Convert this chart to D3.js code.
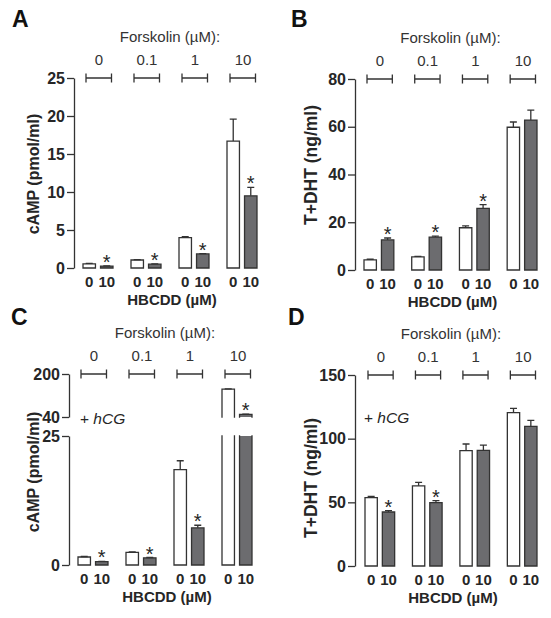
<!DOCTYPE html>
<html><head><meta charset="utf-8">
<script src="https://cdn.jsdelivr.net/npm/d3@7"></script>
<style>
html,body{margin:0;padding:0;background:#fff;}
svg{display:block;font-family:"Liberation Sans",Arial,Helvetica,sans-serif;}
</style></head>
<body><svg id="chart" width="551" height="618"></svg>
<script>
// ---------- data ----------
const forskolin = ["0", "0.1", "1", "10"];
const hbcdd = ["0", "10"];

// Panel A: cAMP (pmol/ml)
const aControl = [0.55, 1.05, 4.0, 16.7];
const aControlErr = [0.05, 0.05, 0.12, 2.9];
const aHbcdd = [0.25, 0.5, 1.85, 9.5];
const aHbcddErr = [0.03, 0.05, 0.05, 1.1];
const aSig = [true, true, true, true];
const aTicks = [0, 5, 10, 15, 20, 25];

// Panel B: T+DHT (ng/ml)
const bControl = [4.2, 5.5, 17.7, 59.8];
const bControlErr = [0.3, 0.2, 0.8, 2.2];
const bHbcdd = [12.6, 13.8, 25.8, 62.8];
const bHbcddErr = [0.8, 0.4, 1.6, 4.2];
const bSig = [true, true, true, false];
const bTicks = [0, 20, 40, 60, 80];

// Panel C: cAMP (pmol/ml) + hCG, broken axis
const cControl = [1.55, 2.45, 18.5, 144];
const cControlErr = [0.1, 0.1, 1.7, 1];
const cHbcdd = [0.65, 1.4, 7.2, 50];
const cHbcddErr = [0.05, 0.05, 0.5, 0.5];
const cSig = [true, true, true, true];
const cTicksLow = [0, 25];
const cTicksHigh = [40, 200];

// Panel D: T+DHT (ng/ml) + hCG
const dControl = [53.7, 63, 90.6, 120.4];
const dControlErr = [1.0, 2.7, 5.2, 3.4];
const dHbcdd = [42.4, 49.7, 90.8, 109.7];
const dHbcddErr = [1.1, 1.6, 4.2, 4.7];
const dSig = [true, true, false, false];
const dTicks = [0, 50, 100, 150];

// ---------- drawing ----------
const svg = d3.select("#chart");
const TXT = "#262626";
const STROKE = "#333";
const GREY = "#6c6c6f";

function rows(ctrl, ctrlErr, trt, trtErr, sig) {
  return forskolin.map((f, i) => ({
    f,
    bars: [
      {h: hbcdd[0], v: ctrl[i], e: ctrlErr[i], fill: "#fff", sig: false},
      {h: hbcdd[1], v: trt[i], e: trtErr[i], fill: GREY, sig: sig[i]}
    ]
  }));
}

function drawPanel(p) {
  const g = svg.append("g");
  const x = d3.scaleBand().domain(forskolin).range([p.x0, p.x1]).paddingInner(0.375).paddingOuter(0);
  const xi = d3.scaleBand().domain(hbcdd).range([0, x.bandwidth()]).paddingInner(0.29).paddingOuter(0);
  const segs = p.segs;
  const topY = d3.min(segs, s => s.scale.range()[1]);
  const zeroY = segs[0].scale(segs[0].min);

  // axes
  segs.forEach(s => {
    const ax = d3.axisLeft(s.scale).tickValues(s.ticks).tickSize(7).tickSizeOuter(0).tickPadding(2).tickFormat(d3.format("d"));
    const ag = g.append("g").attr("transform", `translate(${p.axisX},0)`).call(ax);
    ag.select(".domain").attr("stroke", STROKE).attr("stroke-width", 1.3);
    ag.selectAll(".tick line").attr("stroke", STROKE).attr("stroke-width", 1.3);
    ag.selectAll(".tick text").attr("fill", TXT).attr("font-size", 16).attr("font-weight", "bold").attr("font-family", "Liberation Sans, Arial, sans-serif");
  });

  // panel letter
  g.append("text").attr("x", p.letterX).attr("y", p.letterY).text(p.letter)
    .attr("font-size", 23).attr("font-weight", "bold").attr("fill", "#111");

  // Forskolin header
  const midX = (p.x0 + p.x1) / 2;
  g.append("text").attr("x", midX).attr("y", topY - 36).attr("text-anchor", "middle")
    .attr("font-size", 15).attr("fill", "#333").text("Forskolin (\u00b5M):");

  // brackets + concentration labels
  forskolin.forEach(f => {
    const gx = x(f), bw = x.bandwidth();
    const l = gx + 3, r = gx + bw - 1.5;
    g.append("path").attr("d", `M${l},${topY - 4.5}V${topY + 4.5}M${l},${topY}H${r}M${r},${topY - 4.5}V${topY + 4.5}`)
      .attr("stroke", STROKE).attr("stroke-width", 1.3).attr("fill", "none");
    g.append("text").attr("x", gx + bw / 2 + 1).attr("y", topY - 13).attr("text-anchor", "middle")
      .attr("font-size", 15).attr("fill", "#333").text(f);
  });

  // bars
  p.data.forEach(grp => {
    grp.bars.forEach(b => {
      const bx = x(grp.f) + xi(b.h), bw = xi.bandwidth();
      segs.forEach(s => {
        if (b.v <= s.min) return;
        const vt = Math.min(b.v, s.max);
        const yt = s.scale(vt), yb = s.scale(s.min);
        const openTop = b.v > s.max, openBottom = s.min > 0;
        g.append("rect").attr("x", bx).attr("y", yt).attr("width", bw).attr("height", yb - yt).attr("fill", b.fill);
        let d = `M${bx},${yb}V${yt}M${bx + bw},${yb}V${yt}`;
        if (!openTop) d += `M${bx},${yt}H${bx + bw}`;
        if (!openBottom) d += `M${bx},${yb}H${bx + bw}`;
        g.append("path").attr("d", d).attr("stroke", STROKE).attr("stroke-width", 1.3).attr("fill", "none").attr("stroke-linecap", "square");
        if (b.v <= s.max) {
          const cx = bx + bw / 2;
          const ye = s.scale(b.v + b.e);
          g.append("path").attr("d", `M${cx},${yt}V${ye}M${cx - 3.5},${ye}H${cx + 3.5}`)
            .attr("stroke", STROKE).attr("stroke-width", 1.3).attr("fill", "none");
          if (b.sig) {
            g.append("text").attr("x", cx).attr("y", ye + 3).attr("text-anchor", "middle")
              .attr("font-size", 20).attr("fill", TXT).text("*");
          }
        }
      });
      // HBCDD label
      g.append("text").attr("x", bx + bw / 2).attr("y", zeroY + 19).attr("text-anchor", "middle")
        .attr("font-size", 15).attr("font-weight", "bold").attr("fill", TXT).text(b.h);
    });
  });

  // HBCDD title
  g.append("text").attr("x", midX + 2).attr("y", zeroY + 37).attr("text-anchor", "middle")
    .attr("font-size", 15).attr("font-weight", "bold").attr("fill", TXT).text("HBCDD (\u00b5M)");

  // y title
  g.append("text").attr("transform", `translate(${p.titleX},${p.titleY}) rotate(-90)`).attr("text-anchor", "middle")
    .attr("font-size", p.titleSize).attr("font-weight", "bold").attr("fill", TXT).text(p.ytitle);

  if (p.hcg) {
    g.append("text").attr("x", p.hcg[0]).attr("y", p.hcg[1]).attr("font-size", 15.5).attr("fill", TXT)
      .html('+ <tspan font-style="italic">hCG</tspan>');
  }
}

drawPanel({
  letter: "A", letterX: 12, letterY: 27, axisX: 74, x0: 83, x1: 257,
  segs: [{scale: d3.scaleLinear().domain([0, 25]).range([268, 78]), min: 0, max: 25, ticks: aTicks}],
  data: rows(aControl, aControlErr, aHbcdd, aHbcddErr, aSig),
  ytitle: "cAMP (pmol/ml)", titleX: 39, titleY: 174, titleSize: 16
});
drawPanel({
  letter: "B", letterX: 291, letterY: 27, axisX: 355, x0: 364, x1: 537,
  segs: [{scale: d3.scaleLinear().domain([0, 80]).range([270, 79]), min: 0, max: 80, ticks: bTicks}],
  data: rows(bControl, bControlErr, bHbcdd, bHbcddErr, bSig),
  ytitle: "T+DHT (ng/ml)", titleX: 317, titleY: 165, titleSize: 17.5
});
drawPanel({
  letter: "C", letterX: 11, letterY: 325, axisX: 69, x0: 78, x1: 252,
  segs: [
    {scale: d3.scaleLinear().domain([0, 25]).range([565, 436]), min: 0, max: 25, ticks: cTicksLow},
    {scale: d3.scaleLinear().domain([40, 200]).range([417, 374]), min: 40, max: 200, ticks: cTicksHigh}
  ],
  data: rows(cControl, cControlErr, cHbcdd, cHbcddErr, cSig),
  ytitle: "cAMP (pmol/ml)", titleX: 39, titleY: 472, hcg: [80, 424], titleSize: 16
});
drawPanel({
  letter: "D", letterX: 288, letterY: 325, axisX: 355, x0: 365, x1: 537,
  segs: [{scale: d3.scaleLinear().domain([0, 150]).range([566, 375]), min: 0, max: 150, ticks: dTicks}],
  data: rows(dControl, dControlErr, dHbcdd, dHbcddErr, dSig),
  ytitle: "T+DHT (ng/ml)", titleX: 317, titleY: 478, hcg: [364, 423], titleSize: 17.5
});
</script></body></html>
